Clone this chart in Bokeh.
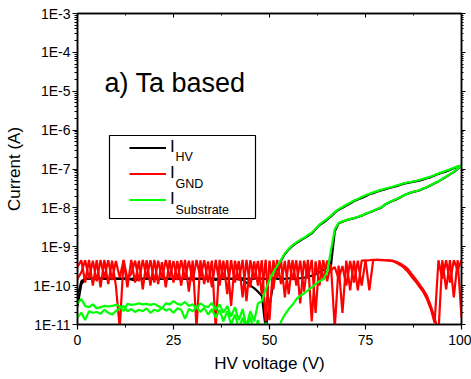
from bokeh.plotting import figure
from bokeh.models import (Range1d, FixedTicker, CustomJSTickFormatter, LinearAxis, LogAxis,
                          Legend, LegendItem, Label, BoxAnnotation)
from bokeh.embed import file_html
from bokeh.resources import INLINE

# ---------------- data ----------------
voltage = [0, 1, 2, 3, 4, 5, 6, 7, 8, 9, 10, 11, 12, 13, 14, 15, 16, 17, 18, 19,
           20, 21, 22, 23, 24, 25, 26, 27, 28, 29, 30, 31, 32, 33, 34, 35, 36, 37, 38, 39,
           40, 41, 42, 43, 44, 45, 46, 47, 48, 49, 50, 51, 52, 53, 54, 55, 56, 57, 58, 59,
           60, 61, 62, 63, 64, 65, 66, 67, 68, 69, 70, 71, 72, 73, 74, 75, 76, 77, 78, 79,
           80, 81, 82, 83, 84, 85, 86, 87, 88, 89, 90, 91, 92, 93, 94, 95, 96, 97, 98, 99, 100]

# I_HV, sweep 1 (dips near 49 V, upper branch)
i_hv_1 = [3.0e-11, 1.1e-10, 1.5e-10, 1.5e-10, 1.55e-10, 1.5e-10, 1.5e-10, 1.55e-10, 1.5e-10, 1.5e-10,
          1.5e-10, 1.5e-10, 1.55e-10, 1.5e-10, 1.45e-10, 1.35e-10, 1.5e-10, 1.5e-10, 1.55e-10, 1.5e-10,
          1.5e-10, 1.5e-10, 1.5e-10, 1.55e-10, 1.5e-10, 1.5e-10, 1.5e-10, 1.5e-10, 1.55e-10, 1.5e-10,
          1.5e-10, 1.5e-10, 1.5e-10, 1.5e-10, 1.55e-10, 1.5e-10, 1.4e-10, 1.5e-10, 1.5e-10, 1.5e-10,
          1.5e-10, 1.5e-10, 1.45e-10, 1.4e-10, 1.2e-10, 1.0e-10, 8.6e-11, 7.0e-11, 5.5e-11, 8e-12,
          3.0e-11, 1.2e-10, 2.8e-10, 4.4e-10, 6.5e-10, 8.5e-10, 1.05e-9, 1.25e-9, 1.45e-9, 1.65e-9,
          1.9e-9, 2.2e-9, 2.8e-9, 3.6e-9, 4.2e-9, 5.0e-9, 6.0e-9, 7.5e-9, 9.0e-9, 1.0e-8,
          1.15e-8, 1.3e-8, 1.5e-8, 1.65e-8, 1.8e-8, 2.0e-8, 2.25e-8, 2.4e-8, 2.6e-8, 2.8e-8,
          3.0e-8, 3.2e-8, 3.4e-8, 3.6e-8, 3.9e-8, 4.2e-8, 4.4e-8, 4.6e-8, 4.8e-8, 5.0e-8,
          5.4e-8, 5.8e-8, 6.2e-8, 6.8e-8, 7.5e-8, 8.0e-8, 8.7e-8, 9.5e-8, 1.05e-7, 1.15e-7, 1.22e-7]

# I_HV, sweep 2 (flat until ~66 V, lower branch)
i_hv_2 = [5.0e-11, 1.3e-10, 1.5e-10, 1.55e-10, 1.5e-10, 1.5e-10, 1.55e-10, 1.5e-10, 1.5e-10, 1.5e-10,
          1.55e-10, 1.5e-10, 1.5e-10, 1.5e-10, 1.5e-10, 1.55e-10, 1.5e-10, 1.5e-10, 1.5e-10, 1.55e-10,
          1.5e-10, 1.5e-10, 1.55e-10, 1.5e-10, 1.5e-10, 1.5e-10, 1.55e-10, 1.5e-10, 1.5e-10, 1.5e-10,
          1.55e-10, 1.5e-10, 1.5e-10, 1.5e-10, 1.5e-10, 1.55e-10, 1.5e-10, 1.5e-10, 1.5e-10, 1.55e-10,
          1.5e-10, 1.5e-10, 1.5e-10, 1.55e-10, 1.5e-10, 1.5e-10, 1.5e-10, 1.55e-10, 1.5e-10, 1.5e-10,
          1.5e-10, 1.55e-10, 1.5e-10, 1.5e-10, 1.5e-10, 1.55e-10, 1.5e-10, 1.5e-10, 1.55e-10, 1.6e-10,
          1.7e-10, 1.8e-10, 2.0e-10, 2.2e-10, 2.5e-10, 2.9e-10, 3.3e-10, 2.5e-9, 4.0e-9, 4.4e-9,
          4.8e-9, 5.1e-9, 5.4e-9, 5.8e-9, 6.3e-9, 7.0e-9, 7.6e-9, 8.3e-9, 9.2e-9, 1.0e-8,
          1.2e-8, 1.35e-8, 1.5e-8, 1.65e-8, 1.85e-8, 2.1e-8, 2.3e-8, 2.5e-8, 2.65e-8, 2.8e-8,
          3.1e-8, 3.4e-8, 3.8e-8, 4.3e-8, 4.8e-8, 5.5e-8, 6.3e-8, 7.3e-8, 8.3e-8, 1.0e-7, 1.22e-7]

# I_GND, sweep 1
i_gnd_1 = [3.0e-10, 4.5e-10, 1.2e-10, 4.6e-10, 1.0e-10, 4.5e-10, 9e-11, 4.6e-10, 1.1e-10, 4.4e-10,
           1.0e-10, 8e-12, 4.5e-10, 9e-11, 4.6e-10, 1.2e-10, 4.4e-10, 8e-11, 4.5e-10, 1.0e-10,
           4.6e-10, 1.1e-10, 4.0e-10, 9e-11, 4.5e-10, 1.2e-10, 4.3e-10, 1.0e-10, 4.6e-10, 7e-11,
           4.4e-10, 8e-12, 4.5e-10, 1.1e-10, 4.2e-10, 9e-11, 4.6e-10, 1.0e-10, 4.4e-10, 6e-11,
           4.5e-10, 1.2e-10, 4.3e-10, 5e-11, 4.6e-10, 9e-11, 4.2e-10, 1.0e-10, 4.5e-10, 1.2e-11,
           4.4e-10, 8e-11, 4.6e-10, 1.1e-10, 4.3e-10, 6e-11, 4.5e-10, 1.0e-10, 4.4e-10, 7e-11,
           4.6e-10, 1.2e-11, 4.2e-10, 1.0e-10, 4.5e-10, 1.3e-10, 3.5e-10, 8e-12, 3.3e-10, 2e-11,
           4.4e-10, 7.5e-11, 4.4e-10, 7.5e-11, 4.4e-10, 4.5e-10, 7.5e-11, 4.5e-10, 4.6e-10, 4.6e-10,
           4.5e-10, 4.5e-10, 4.4e-10, 4.1e-10, 3.7e-10, 3.2e-10, 2.7e-10, 2.0e-10, 1.5e-10, 1.1e-10,
           8e-11, 5.5e-11, 3e-11, 1.5e-11, 6e-12, 4.5e-10, 8e-11, 4.5e-10, 5e-11, 4.5e-10, 1.5e-11]

# I_GND, sweep 2
i_gnd_2 = [1.5e-10, 2.2e-10, 4.5e-10, 1.5e-10, 4.4e-10, 1.3e-10, 4.6e-10, 1.6e-10, 4.5e-10, 1.4e-10,
           4.3e-10, 1.6e-10, 4.6e-10, 1.5e-10, 2.0e-10, 4.4e-10, 1.3e-10, 4.6e-10, 1.6e-10, 4.5e-10,
           1.2e-10, 4.4e-10, 1.5e-10, 4.6e-10, 1.6e-10, 4.3e-10, 1.4e-10, 4.5e-10, 1.5e-10, 4.4e-10,
           1.3e-10, 4.6e-10, 1.6e-10, 4.5e-10, 1.2e-10, 4.4e-10, 8e-12, 4.6e-10, 1.5e-10, 4.5e-10,
           3e-11, 4.4e-10, 1.4e-10, 4.6e-10, 4e-11, 4.5e-10, 1.5e-10, 4.3e-10, 6e-11, 4.6e-10,
           1.3e-11, 4.5e-10, 1.6e-10, 4.4e-10, 5e-11, 4.6e-10, 1.4e-10, 4.5e-10, 3.5e-11, 4.4e-10,
           1.5e-10, 4.6e-10, 2e-11, 4.5e-10, 1.4e-10, 4.4e-10, 2.5e-10, 3.0e-10, 1.5e-10, 3.2e-10,
           1.0e-10, 4.3e-10, 1.2e-10, 4.4e-10, 1.0e-10, 4.4e-10, 4.5e-10, 4.6e-10, 4.6e-10, 4.5e-10,
           4.5e-10, 4.4e-10, 4.3e-10, 3.9e-10, 3.4e-10, 2.9e-10, 2.3e-10, 1.7e-10, 1.3e-10, 9.5e-11,
           7e-11, 4.5e-11, 2.5e-11, 1.1e-11, 4.5e-10, 1.5e-10, 4.5e-10, 1.2e-10, 4.5e-10, 2.5e-10, 4.5e-10]

# I_Substrate, sweep 1 (upper branch)
i_sub_1 = [3.5e-11, 4.5e-11, 3.0e-11, 2.8e-11, 3.3e-11, 2.6e-11, 2.8e-11, 3.0e-11, 2.9e-11, 3.0e-11,
           3.2e-11, 3.0e-11, 2.2e-11, 3.4e-11, 3.2e-11, 3.3e-11, 3.5e-11, 3.3e-11, 3.4e-11, 3.2e-11,
           3.4e-11, 3.0e-11, 2.6e-11, 3.5e-11, 3.3e-11, 4.0e-11, 3.4e-11, 3.2e-11, 3.8e-11, 3.0e-11,
           3.3e-11, 2.6e-11, 3.5e-11, 3.0e-11, 2.8e-11, 3.6e-11, 2.4e-11, 3.3e-11, 2.0e-11, 3.0e-11,
           1.6e-11, 2.8e-11, 1.3e-11, 2.5e-11, 9e-12, 2.2e-11, 1.2e-11, 3.5e-11, 4.0e-11, 8.0e-11,
           1.4e-10, 2.2e-10, 3.2e-10, 4.6e-10, 6.8e-10, 8.8e-10, 1.1e-9, 1.3e-9, 1.5e-9, 1.7e-9,
           2.0e-9, 2.3e-9, 2.9e-9, 3.7e-9, 4.4e-9, 5.2e-9, 6.3e-9, 7.8e-9, 9.3e-9, 1.05e-8,
           1.2e-8, 1.35e-8, 1.55e-8, 1.7e-8, 1.9e-8, 2.1e-8, 2.3e-8, 2.5e-8, 2.7e-8, 2.9e-8,
           3.1e-8, 3.3e-8, 3.5e-8, 3.75e-8, 4.0e-8, 4.3e-8, 4.5e-8, 4.7e-8, 4.9e-8, 5.2e-8,
           5.6e-8, 6.0e-8, 6.4e-8, 7.0e-8, 7.7e-8, 8.3e-8, 9.0e-8, 9.8e-8, 1.08e-7, 1.16e-7, 1.22e-7]

# I_Substrate, sweep 2 (lower branch)
i_sub_2 = [1.5e-11, 2.0e-11, 1.3e-11, 2.2e-11, 2.0e-11, 2.1e-11, 1.9e-11, 2.4e-11, 2.0e-11, 1.8e-11,
           2.2e-11, 2.6e-11, 3.0e-11, 2.2e-11, 2.5e-11, 2.1e-11, 2.4e-11, 2.2e-11, 2.6e-11, 2.0e-11,
           2.4e-11, 2.2e-11, 2.7e-11, 2.3e-11, 2.5e-11, 2.0e-11, 2.6e-11, 2.4e-11, 1.4e-11, 2.5e-11,
           2.2e-11, 2.8e-11, 2.1e-11, 2.7e-11, 1.8e-11, 2.5e-11, 1.5e-11, 2.4e-11, 1.2e-11, 2.2e-11,
           1.0e-11, 1.8e-11, 8e-12, 1.5e-11, 7e-12, 1.6e-11, 6e-12, 1.3e-11, 5e-12, 1.1e-11,
           5e-12, 9e-12, 5e-12, 1.2e-11, 1.8e-11, 2.5e-11, 3.2e-11, 4.5e-11, 5.5e-11, 6.3e-11,
           7.5e-11, 9.0e-11, 1.1e-10, 1.3e-10, 1.45e-10, 2.2e-10, 8.0e-10, 2.8e-9, 4.1e-9, 4.5e-9,
           4.9e-9, 5.2e-9, 5.5e-9, 5.9e-9, 6.4e-9, 7.1e-9, 7.7e-9, 8.4e-9, 9.3e-9, 1.02e-8,
           1.2e-8, 1.37e-8, 1.52e-8, 1.68e-8, 1.88e-8, 2.12e-8, 2.32e-8, 2.52e-8, 2.68e-8, 2.85e-8,
           3.15e-8, 3.45e-8, 3.85e-8, 4.35e-8, 4.85e-8, 5.6e-8, 6.4e-8, 7.4e-8, 8.5e-8, 1.02e-7, 1.23e-7]

x_ticks = [0, 25, 50, 75, 100]
x_minor = [12.5, 37.5, 62.5, 87.5]
y_decades = [1e-11, 1e-10, 1e-9, 1e-8, 1e-7, 1e-6, 1e-5, 1e-4, 1e-3]
series_names = ["HV", "GND", "Substrate"]
series_colors = ["#000000", "#ff0000", "#00ff00"]

# ---------------- layout helpers ----------------
W, H = 471, 379
FL, FR, FT, FB = 77, 461, 13, 324
X0, X1 = 0, 100
LY0, LY1 = -11, -3


def px_x(px):
    return X0 + (px - FL) * (X1 - X0) / (FR - FL)


def px_y(py):
    return 10 ** (LY1 - (py - FT) * (LY1 - LY0) / (FB - FT))


FONT = "Liberation Sans"

p = figure(width=W, height=H, x_range=Range1d(X0, X1), y_range=Range1d(1e-11, 1e-3),
           y_axis_type="log", output_backend="svg", toolbar_location=None,
           min_border_left=FL, min_border_right=W - FR, min_border_top=FT,
           min_border_bottom=H - FB)
p.grid.visible = False
p.outline_line_color = "black"
p.outline_line_width = 1.5
p.background_fill_color = "white"
p.border_fill_color = "white"

y_minor = [m * d for d in y_decades[:-1] for m in range(2, 10)]

# bottom axis
xa = p.xaxis[0]
xa.ticker = FixedTicker(ticks=x_ticks, minor_ticks=x_minor)
xa.axis_label = "HV voltage (V)"
# left axis
ya = p.yaxis[0]
ya.ticker = FixedTicker(ticks=y_decades, minor_ticks=y_minor)
ya.formatter = CustomJSTickFormatter(code="return '1E' + Math.round(Math.log10(tick));")
ya.axis_label = "Current (A)"

for ax in (xa, ya):
    ax.axis_line_width = 1.5
    ax.major_tick_out = 5
    ax.major_tick_in = 0
    ax.minor_tick_out = 3
    ax.minor_tick_in = 0
    ax.major_tick_line_width = 1.2
    ax.major_label_text_font = FONT
    ax.major_label_text_font_size = "14px"
    ax.major_label_text_color = "black"
    ax.axis_label_text_font = FONT
    ax.axis_label_text_font_size = "17px"
    ax.axis_label_text_font_style = "normal"
    ax.axis_label_text_color = "black"
xa.major_label_standoff = 5
xa.axis_label_standoff = 6
ya.major_label_standoff = 2
ya.axis_label_standoff = 6

# mirrored axes (top / right), ticks only
blank = CustomJSTickFormatter(code="return '';")
top = LinearAxis(ticker=FixedTicker(ticks=x_ticks, minor_ticks=x_minor), formatter=blank,
                 major_label_text_font_size="1px", major_label_text_alpha=0, major_label_standoff=0,
                 major_tick_in=4, major_tick_out=0, minor_tick_in=2, minor_tick_out=0,
                 axis_line_width=1.5)
right = LogAxis(ticker=FixedTicker(ticks=y_decades, minor_ticks=y_minor), formatter=blank,
                major_label_text_font_size="1px", major_label_text_alpha=0, major_label_standoff=0,
                major_tick_in=0, major_tick_out=4, minor_tick_in=0, minor_tick_out=2,
                axis_line_width=1.5)
p.add_layout(top, "above")
p.add_layout(right, "right")

# ---------------- data lines ----------------
lw = 2.2
hv1 = p.line(voltage, i_hv_1, line_color=series_colors[0], line_width=lw)
hv2 = p.line(voltage, i_hv_2, line_color=series_colors[0], line_width=lw)
gnd1 = p.line(voltage, i_gnd_1, line_color=series_colors[1], line_width=lw)
gnd2 = p.line(voltage, i_gnd_2, line_color=series_colors[1], line_width=lw)
sub1 = p.line(voltage, i_sub_1, line_color=series_colors[2], line_width=lw)
sub2 = p.line(voltage, i_sub_2, line_color=series_colors[2], line_width=lw)

# ---------------- legend ----------------
legend = Legend(items=[LegendItem(label="I", renderers=[hv1]),
                       LegendItem(label="I", renderers=[gnd1]),
                       LegendItem(label="I", renderers=[sub1])],
                location=(129 - FL, FB - 135.5 - 75), padding=0, spacing=3,
                glyph_width=37, glyph_height=23, label_height=23, label_standoff=4,
                margin=0, border_line_alpha=0, background_fill_alpha=0,
                label_text_font=FONT, label_text_font_size="17px", label_text_color="black")
p.add_layout(legend)

p.add_layout(BoxAnnotation(left=px_x(109), right=px_x(255), top=px_y(135), bottom=px_y(218),
                           fill_alpha=0, line_color="black", line_alpha=1.0, line_width=1.2))

for name, base in zip(series_names, [156.5, 183, 209.5]):
    p.add_layout(Label(x=px_x(175), y=px_y(base), text=name, text_font=FONT,
                       text_font_size="12.5px", text_baseline="alphabetic", text_color="black"))

p.add_layout(Label(x=px_x(104), y=px_y(82), text="a) Ta based", text_font=FONT,
                   text_font_size="27px", text_baseline="alphabetic", text_color="black"))

open("out.html", "w").write(file_html(p, INLINE))
